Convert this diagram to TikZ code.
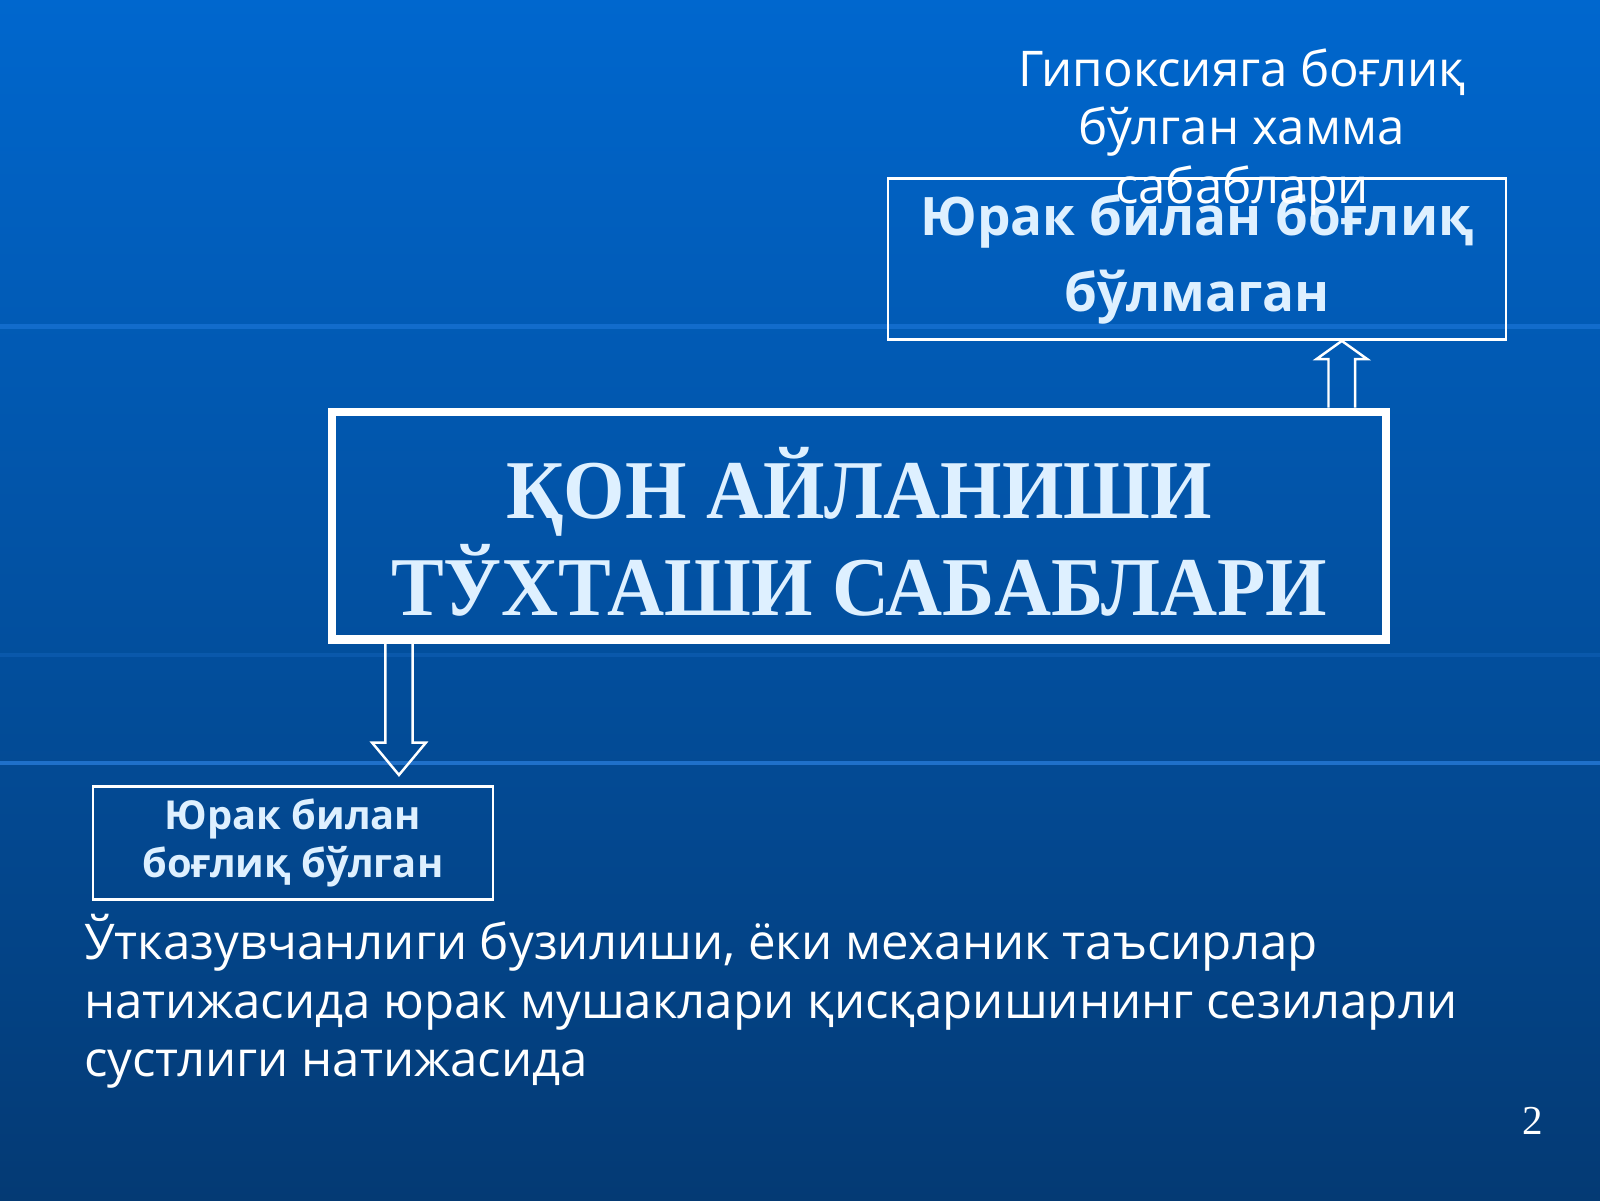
\documentclass[tikz,border=0pt]{standalone}
\usepackage{fontspec}
\setmainfont{Open Sans}
\newfontfamily\titlefont[FakeStretch=0.945]{Liberation Serif}
\newfontfamily\numfont{Liberation Serif}
\usetikzlibrary{positioning,calc}

\definecolor{slidetop}{RGB}{0,103,206}
\definecolor{slidemid}{RGB}{0,82,168}
\definecolor{slidebot}{RGB}{4,58,116}
\definecolor{glow}{RGB}{60,150,255}
\definecolor{paletext}{RGB}{222,240,255}

\tikzset{
  framebox/.style={draw=white, line width=0.7pt, align=center, text=paletext,
    font=\bfseries\fontsize{15.1}{21.7}\selectfont},
  mainbox/.style={draw=white, line width=2.3pt, minimum width=10.54cm, minimum height=2.28cm},
  titletext/.style={align=center, text=paletext, font=\titlefont\bfseries\fontsize{23.8}{27.5}\selectfont},
  plaintext/.style={text=white, inner xsep=0pt, font=\fontsize{14}{16.6}\selectfont},
  blockarrow/.style={draw=white, line width=0.7pt, line join=miter},
  glowline/.style={glow, line width=1.2pt}
}

\begin{document}
\begin{tikzpicture}[x=0.010204cm,y=-0.010204cm]

    % background of the slide
    \shade[top color=slidetop, middle color=slidemid, bottom color=slidebot] (0,0) rectangle (1568,1176);
    \useasboundingbox (0,0) rectangle (1568,1176);
    \foreach \yy/\op in {320/0.3,642/0.15,748/0.5}
      \draw[glowline, opacity=\op] (0,\yy) -- (1568,\yy);

    \coordinate (upx) at (1315,0);
    \coordinate (downx) at (391,0);

    \node[mainbox] (main) at (842,515) {};
    \node[titletext] (title) at (842,521) {ҚОН АЙЛАНИШИ\\ТЎХТАШИ САБАБЛАРИ};

    \node[framebox, minimum width=6.18cm, minimum height=1.61cm] (nohrt) at (1173,254)
      {Юрак билан боғлиқ\\бўлмаган};
    \node[plaintext, align=center, anchor=base] (hyp) at (1217,199)
      {Гипоксияга боғлиқ\\бўлган хамма\\сабаблари};

    \node[framebox, minimum width=4.0cm, minimum height=1.13cm,
      font=\bfseries\fontsize{11.35}{13.6}\selectfont] (hrt) at (287,826)
      {Юрак билан\\боғлиқ бўлган};
    \node[plaintext, align=left, anchor=base west] (effect) at (82,1055)
      {Ўтказувчанлиги бузилиши, ёки механик таъсирлар\\натижасида юрак мушаклари қисқаришининг сезиларли\\сустлиги натижасида};

    % hollow arrows
    \draw[blockarrow] let \p1=(main.north -| upx), \p2=(nohrt.south -| upx) in
      (\x1-3.8pt,\y1) -- (\x1-3.8pt,\y2-5.2pt) -- (\x1-7.25pt,\y2-5.2pt) -- (\x1,\y2)
      -- (\x1+7.25pt,\y2-5.2pt) -- (\x1+3.8pt,\y2-5.2pt) -- (\x1+3.8pt,\y1);
    \draw[blockarrow] let \p1=(main.south -| downx), \p2=(hrt.north -| downx) in
      (\x1-3.9pt,\y1) -- (\x1-3.9pt,\y2+12.1pt) -- (\x1-7.65pt,\y2+12.1pt) -- (\x1,\y2+2.9pt)
      -- (\x1+7.65pt,\y2+12.1pt) -- (\x1+3.9pt,\y2+12.1pt) -- (\x1+3.9pt,\y1);

    \node[text=white, font=\numfont\fontsize{11.7}{14}\selectfont] (num) at (1502,1098) {2};
\end{tikzpicture}
\end{document}
